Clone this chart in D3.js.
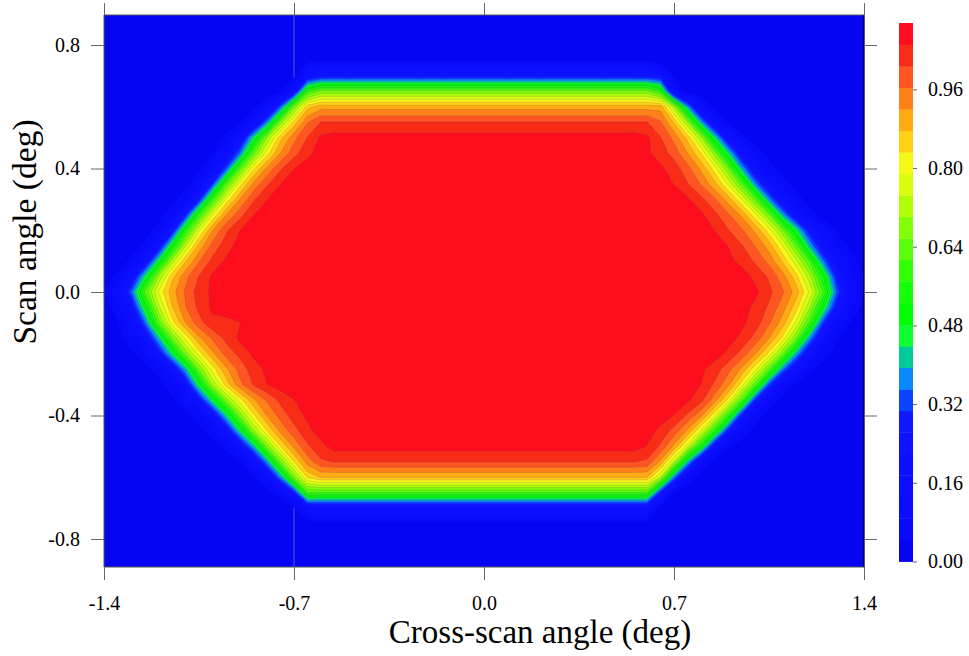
<!DOCTYPE html>
<html><head><meta charset="utf-8">
<script src="https://cdn.jsdelivr.net/npm/d3@7"></script>
<style>
body{margin:0;background:#fff;}
svg{display:block;}
text{font-family:"Liberation Serif","Times New Roman",serif;fill:#000;}
</style>
</head><body>
<svg id="chart" width="969" height="656"></svg>
<script>
// ---------------- data ----------------
const gridX = [-1.40,-1.35,-1.30,-1.25,-1.20,-1.15,-1.10,-1.05,-1.00,-0.95,-0.90,-0.85,-0.80,-0.75,-0.70,-0.65,-0.60,-0.55,-0.50,-0.45,-0.40,-0.35,-0.30,-0.25,-0.20,-0.15,-0.10,-0.05,0.00,0.05,0.10,0.15,0.20,0.25,0.30,0.35,0.40,0.45,0.50,0.55,0.60,0.65,0.70,0.75,0.80,0.85,0.90,0.95,1.00,1.05,1.10,1.15,1.20,1.25,1.30,1.35,1.40];
const gridY = [0.90,0.85,0.80,0.75,0.70,0.65,0.60,0.55,0.50,0.45,0.40,0.35,0.30,0.25,0.20,0.15,0.10,0.05,0.00,-0.05,-0.10,-0.15,-0.20,-0.25,-0.30,-0.35,-0.40,-0.45,-0.50,-0.55,-0.60,-0.65,-0.70,-0.75,-0.80,-0.85,-0.90];
// normalised response (x100), one row per gridY value, one column per gridX value
const zRows = [
[0,0,0,0,0,0,0,0,0,0, 0,0,0,0,0,0,0,0,0,0, 0,0,0,0,0,0,0,0,0,0, 0,0,0,0,0,0,0,0,0,0, 0,0,0,0,0,0,0,0,0,0, 0,0,0,0,0,0,0],
[0,0,0,0,0,0,0,0,0,0, 0,0,0,0,0,0,0,0,0,0, 0,0,0,0,0,0,0,0,0,0, 0,0,0,0,0,0,0,0,0,0, 0,0,0,0,0,0,0,0,0,0, 0,0,0,0,0,0,0],
[0,0,0,0,0,0,0,0,0,0, 0,0,0,0,0,0,0,0,0,0, 0,0,0,0,0,0,0,0,0,0, 0,0,0,0,0,0,0,0,0,0, 0,0,0,0,0,0,0,0,0,0, 0,0,0,0,0,0,0],
[0,0,0,0,0,0,0,0,0,0, 0,0,0,0,0, 3, 4,4,4,4,4,4,4,4,4,4, 4,4,4,4,4,4,4,4,4,4, 4,4,4,4,4, 1, 0,0,0,0,0,0,0,0,0,0, 0,0,0,0,0],
[0,0,0,0,0,0,0,0,0,0, 0,0,0,0, 3,20, 26,26,26,26,26,26,26,26,26,26, 26,26,26,26,26,26,26,26,26,26, 26,26,26,26,26, 24,3, 0,0,0,0,0,0,0,0,0,0, 0,0,0,0],
[0,0,0,0,0,0,0,0,0,0, 0,0,0, 4,21,59, 67,67,67,67,67,67,67,67,67,67, 67,67,67,67,67,67,67,67,67,67, 67,67,67,67,67, 58,15,1, 0,0,0,0,0,0,0,0,0,0, 0,0,0],
[0,0,0,0,0,0,0,0,0,0, 0, 2,11,34,67,86, 90,90,90,90,90,90,90,90,90,90, 90,90,90,90,90,90,90,90,90,90, 90,90,90,90,90,90, 72,39,13,2, 0,0,0,0,0,0,0,0,0,0, 0],
[0,0,0,0,0,0,0,0,0,0, 3,14,37,68,85,96, 101,101,101,101,101,101,101,101,101,101, 101,101,101,101,101,101,101,101,101,101, 101,101,101,101,101, 97,87,70,40,16,4, 0,0,0,0,0,0,0,0,0,0],
[0,0,0,0,0,0,0,0, 1,6,19,44,70,86,95,101,106, 107,107,107,107,107,107,107,107,107,107, 107,107,107,107,107,107,107,107,107,107, 107,107,107, 106,101,95,86,71,45,20,6,1, 0,0,0,0,0,0,0,0],
[0,0,0,0,0,0,0, 1,4,15,35,64,81,92,99,104,107, 108,108,108,108,108,108,108,108,108,108, 108,108,108,108,108,108,108,108,108,108, 108,108, 107,106,103,99,92,83,68,44,21,8,2, 0,0,0,0,0,0,0],
[0,0,0,0,0,0,0, 3,12,33,63,82,93,100,105,107, 108,108,108,108,108,108,108,108,108,108, 108,108,108,108,108,108,108,108,108,108, 108,108,108,108, 107,106,103,98,91,81,66,40,20,7,2, 0,0,0,0,0,0],
[0,0,0,0,0,0, 2,10,31,62,81,93,100,105,107, 108,108,108,108,108,108,108,108,108,108, 108,108,108,108,108,108,108,108,108,108, 108,108,108,108,108,108, 107,105,101,96,89,78,63,37,19,7,2, 0,0,0,0,0],
[0,0,0,0,0, 2,9,28,60,80,92,100,105,107, 108,108,108,108,108,108,108,108,108,108, 108,108,108,108,108,108,108,108,108,108, 108,108,108,108,108,108,108,108, 107,106,102,97,90,79,64,38,19,7,2, 0,0,0,0],
[0,0,0,0, 2,9,28,59,79,92,99,105,107, 108,108,108,108,108,108,108,108,108,108, 108,108,108,108,108,108,108,108,108,108, 108,108,108,108,108,108,108,108,108,108, 107,106,102,97,91,80,66,40,20,7,2, 0,0,0],
[0,0,0, 1,7,24,56,78,92,100,105,107, 108,108,108,108,108,108,108,108,108,108, 108,108,108,108,108,108,108,108,108,108, 108,108,108,108,108,108,108,108,108,108, 108,108, 107,105,101,97,91,81,67,46,25,11,4,1,0],
[0,0, 1,6,21,50,74,89,98,103,107, 108,108,108,108,108,108,108,108,108,108, 108,108,108,108,108,108,108,108,108,108, 108,108,108,108,108,108,108,108,108,108, 108,108,108,108, 107,105,101,96,90,79,64,40,21,9,3,0],
[0,1,6,20,46,72,87,96,102,106,107, 108,108,108,108,108,108,108,108,108,108, 108,108,108,108,108,108,108,108,108,108, 108,108,108,108,108,108,108,108,108,108, 108,108,108,108, 107,106,104,100,95,87,76,61,36,18,7,2],
[1,6,20,44,70,86,95,101,106,107, 108,108,108,108,108,108,108,108,108,108, 108,108,108,108,108,108,108,108,108,108, 108,108,108,108,108,108,108,108,108,108, 108,108,108,108,108,108, 107,107,104,100,94,85,72,53,27,11,4],
[4,15,34,62,79,90,97,103,106,107, 108,108,108,108,108,108,108,108,108,108, 108,108,108,108,108,108,108,108,108,108, 108,108,108,108,108,108,108,108,108,108, 108,108,108,108,108,108,108, 107,106,102,97,90,78,61,34,15,4],
[2,7,22,49,73,87,96,102,106,107, 108,108,108,108,108,108,108,108,108,108, 108,108,108,108,108,108,108,108,108,108, 108,108,108,108,108,108,108,108,108,108, 108,108,108,108,108,108,108, 107,104,100,94,85,71,49,25,10,3],
[0,4,14,34,63,81,92,99,104,104,105, 108,108,108,108,108,108,108,108,108,108, 108,108,108,108,108,108,108,108,108,108, 108,108,108,108,108,108,108,108,108,108, 108,108,108,108,108, 107,106,103,97,90,78,60,31,13,4,1],
[0,2,8,20,40,65,80,91,97,102,106,107, 108,108,108,108,108,108,108,108,108,108, 108,108,108,108,108,108,108,108,108,108, 108,108,108,108,108,108,108,108,108,108, 108,108,108,108, 107,104,99,92,82,66,38,17,5,1,0],
[0,0,3,9,24,44,67,81,91,98,102,106,107, 108,108,108,108,108,108,108,108,108,108, 108,108,108,108,108,108,108,108,108,108, 108,108,108,108,108,108,108,108,108,108, 108, 107,107,104,99,92,82,66,40,19,7,2,0,0],
[0,0,0,2,7,20,40,66,81,91,98,103,106,107, 108,108,108,108,108,108,108,108,108,108, 108,108,108,108,108,108,108,108,108,108, 108,108,108,108,108,108,108,108,108, 107,106,103,98,91,80,64,37,18,6,1,0,0,0],
[0,0,0,0,2,8,22,47,71,85,95,101,105,107, 108,108,108,108,108,108,108,108,108,108, 108,108,108,108,108,108,108,108,108,108, 108,108,108,108,108,108,108,108,108, 107,105,100,93,81,63,32,12,3,0,0,0,0,0],
[0,0,0,0,1,3,10,25,46,68,81,91,97,102,105,107, 108,108,108,108,108,108,108,108,108,108, 108,108,108,108,108,108,108,108,108,108, 108,108,108,108,108,108, 107,106,102,94,82,62,29,9,2,0,0,0,0,0,0],
[0,0,0,0,0,0,2,8,21,43,67,82,92,98,103,106,107, 108,108,108,108,108,108,108,108,108,108, 108,108,108,108,108,108,108,108,108,108, 108,108,108,108, 107,105,100,93,80,59,27,8,2,0,0,0,0,0,0,0],
[0,0,0,0,0,0,0,2,8,21,44,69,83,93,99,104,107, 108,108,108,108,108,108,108,108,108,108, 108,108,108,108,108,108,108,108,108,108, 108,108,108, 107,104,99,91,78,57,27,9,2,0,0,0,0,0,0,0,0],
[0,0,0,0,0,0,0,0,1,6,19,40,67,83,93,100,104, 107,107,107,107,107,107,107,107,107,107, 107,107,107,107,107,107,107,107,107,107, 107,107,107, 105,100,91,77,53,21,5,1,0,0,0,0,0,0,0,0,0],
[0,0,0,0,0,0,0,0,0,1,4,16,38,66,83,94,100, 101,101,101,101,101,101,101,101,101,101, 101,101,101,101,101,101,101,101,101,101, 101,101,101, 100,91,74,42,14,2,0,0,0,0,0,0,0,0,0,0,0],
[0,0,0,0,0,0,0,0,0,0,0,4,15,37,67,84, 88,88,88,88,88,88,88,88,88,88, 88,88,88,88,88,88,88,88,88,88, 88,88,88,88,88, 74,37,10,1,0,0,0,0,0,0,0,0,0,0,0,0],
[0,0,0,0,0,0,0,0,0,0,0,0,1,8,27, 61,61,61,61,61,61,61,61,61,61, 61,61,61,61,61,61,61,61,61,61, 61,61,61,61,61,61, 28,4,0,0,0,0,0,0,0,0,0,0,0,0,0,0],
[0,0,0,0,0,0,0,0,0,0,0,0,0,0,4, 18,18,18,18,18,18,18,18,18,18, 18,18,18,18,18,18,18,18,18,18, 18,18,18,18,18,18, 3,0,0,0,0,0,0,0,0,0,0,0,0,0,0,0],
[0,0,0,0,0,0,0,0,0,0,0,0,0,0,0, 2,2,2,2,2,2,2,2,2,2, 2,2,2,2,2,2,2,2,2,2, 2,2,2,2,2,2, 0,0,0,0,0,0,0,0,0,0,0,0,0,0,0,0],
[0,0,0,0,0,0,0,0,0,0, 0,0,0,0,0,0,0,0,0,0, 0,0,0,0,0,0,0,0,0,0, 0,0,0,0,0,0,0,0,0,0, 0,0,0,0,0,0,0,0,0,0, 0,0,0,0,0,0,0],
[0,0,0,0,0,0,0,0,0,0, 0,0,0,0,0,0,0,0,0,0, 0,0,0,0,0,0,0,0,0,0, 0,0,0,0,0,0,0,0,0,0, 0,0,0,0,0,0,0,0,0,0, 0,0,0,0,0,0,0],
[0,0,0,0,0,0,0,0,0,0, 0,0,0,0,0,0,0,0,0,0, 0,0,0,0,0,0,0,0,0,0, 0,0,0,0,0,0,0,0,0,0, 0,0,0,0,0,0,0,0,0,0, 0,0,0,0,0,0,0]
];
const levels = [0,0.0438,0.0876,0.1314,0.1752,0.2190,0.2628,0.3066,0.3504,0.3942,0.4380,0.4818,0.5256,0.5694,0.6132,0.6570,0.7008,0.7446,0.7884,0.8322,0.8760,0.9198,0.9636,1.0074,1.0512,1.0950];
const bandColors = ["#0505f2","#0a0afa","#0b0cfc","#0c0dfe","#0d0fff","#0e12ff","#0f18ff","#0a44ff","#0a88ff","#00cc99","#10ff30","#00ff00","#16ff0a","#30ff08","#58ff08","#82ff08","#b0ff08","#d8ff10","#f8f818","#ffd015","#ffaa10","#ff8018","#ff5520","#f92c18","#fe0d1c"];
const xTicks = [-1.4,-0.7,0.0,0.7,1.4];
const yTicks = [0.8,0.4,0.0,-0.4,-0.8];
const cbTicks = [0.00,0.16,0.32,0.48,0.64,0.80,0.96];
const xTitle = "Cross-scan angle (deg)";
const yTitle = "Scan angle (deg)";

// ---------------- chart ----------------
if (zRows.some(r => r.length !== gridX.length) || zRows.length !== gridY.length) {
  throw new Error("bad grid: " + zRows.map(r => r.length).join(","));
}
const svg = d3.select("#chart");
const P = {left:104, right:864, top:15, bottom:567};
const x = d3.scaleLinear().domain([-1.4, 1.4]).range([104, 864]);
const y = d3.scaleLinear().domain([-0.8, 0.8]).range([539, 45]);

const nx = gridX.length, ny = gridY.length;
const gx = d3.scaleLinear().domain([0.5, nx - 0.5]).range([gridX[0], gridX[nx-1]]);
const gy = d3.scaleLinear().domain([0.5, ny - 0.5]).range([gridY[0], gridY[ny-1]]);
const proj = d3.geoTransform({point(px, py){ this.stream.point(x(gx(px)), y(gy(py))); }});
const path = d3.geoPath(proj);

svg.append("clipPath").attr("id","clip").append("rect")
  .attr("x",P.left).attr("y",P.top).attr("width",P.right-P.left).attr("height",P.bottom-P.top);

const plot = svg.append("g").attr("clip-path","url(#clip)");
plot.append("rect").attr("x",P.left).attr("y",P.top).attr("width",P.right-P.left).attr("height",P.bottom-P.top)
  .attr("fill", bandColors[0]);
plot.append("line").attr("x1",x(-0.7)).attr("x2",x(-0.7)).attr("y1",P.top).attr("y2",P.bottom)
  .attr("stroke","rgba(180,185,255,0.6)").attr("stroke-width",0.8);

const values = zRows.flat().map(v => v / 100);
const contours = d3.contours().size([nx, ny]).thresholds(levels.slice(1, levels.length - 1))(values);
plot.selectAll("path.band").data(contours).join("path")
  .attr("class","band")
  .attr("d", path)
  .attr("fill", (d, i) => bandColors[i + 1])
  .attr("stroke", (d, i) => i >= 7 ? "rgba(70,50,130,0.35)" : "none")
  .attr("stroke-width", 0.5);

// frame
const frame = svg.append("g");
frame.append("line").attr("x1",P.left).attr("x2",P.left).attr("y1",P.top).attr("y2",P.bottom).attr("stroke","#555").attr("stroke-width",1);
frame.append("line").attr("x1",P.left).attr("x2",P.right).attr("y1",P.top).attr("y2",P.top).attr("stroke","#555").attr("stroke-width",1);
frame.append("line").attr("x1",P.left).attr("x2",P.right).attr("y1",P.bottom).attr("y2",P.bottom).attr("stroke","#555").attr("stroke-width",1);
frame.append("line").attr("x1",P.right).attr("x2",P.right).attr("y1",P.top).attr("y2",P.bottom).attr("stroke","#000").attr("stroke-width",1.3);

const fmt1 = d => d.toFixed(1);
function styleAxis(g){
  g.select(".domain").remove();
  g.selectAll(".tick line").attr("stroke","#666").attr("stroke-width",1);
  g.selectAll(".tick text").attr("font-size","20px").attr("font-family","'Liberation Serif',serif").attr("fill","#000");
}
svg.append("g").attr("transform",`translate(${P.left},0)`)
  .call(d3.axisLeft(y).tickValues(yTicks).tickSize(13).tickPadding(11).tickFormat(fmt1)).call(styleAxis);
svg.append("g").attr("transform",`translate(${P.right},0)`)
  .call(d3.axisRight(y).tickValues(yTicks).tickSize(13).tickFormat("")).call(styleAxis);
svg.append("g").attr("transform",`translate(0,${P.bottom})`)
  .call(d3.axisBottom(x).tickValues(xTicks).tickSize(13).tickPadding(16).tickFormat(fmt1)).call(styleAxis);
svg.append("g").attr("transform",`translate(0,${P.top})`)
  .call(d3.axisTop(x).tickValues(xTicks).tickSize(12).tickFormat("")).call(styleAxis);

svg.append("text").attr("x",540).attr("y",643).attr("text-anchor","middle")
  .attr("font-size","33px").text(xTitle);
svg.append("text").attr("transform","translate(36,232) rotate(-90)").attr("text-anchor","middle")
  .attr("font-size","33.5px").text(yTitle);

// colour bar
const cb = {x:899, w:14};
const cbScale = d3.scaleLinear().domain([levels[0], levels[levels.length-1]]).range([561.5, 23]);
svg.append("g").selectAll("rect").data(bandColors).join("rect")
  .attr("x", cb.x).attr("width", cb.w)
  .attr("y", (c, i) => cbScale(levels[i+1]))
  .attr("height", (c, i) => cbScale(levels[i]) - cbScale(levels[i+1]) + 0.4)
  .attr("fill", c => c);
svg.append("g").attr("transform",`translate(${cb.x + cb.w},0)`)
  .call(d3.axisRight(cbScale).tickValues(cbTicks).tickSize(4).tickPadding(11).tickFormat(d => d.toFixed(2)))
  .call(styleAxis);
</script>
</body></html>
